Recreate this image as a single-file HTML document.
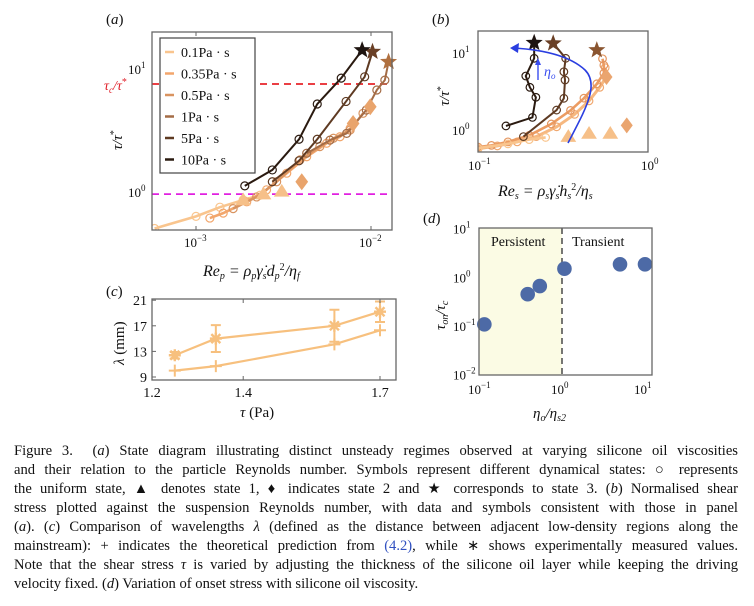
<!DOCTYPE html>
<html><head><meta charset="utf-8">
<style>
body{margin:0;background:#fff;width:754px;height:606px;overflow:hidden;position:relative;font-family:"Liberation Serif",serif;}
svg{position:absolute;left:0;top:0}
.cap{position:absolute;left:14px;width:724px;font-size:14.6px;line-height:19px;text-align:justify;text-align-last:justify;white-space:nowrap;color:#111}
.cap.last{text-align-last:left}
text{font-family:"Liberation Serif",serif;fill:#111}
</style></head><body>
<svg id="fig" width="754" height="606"></svg>
<div class="cap" style="top:442px">Figure 3. &nbsp;(<i>a</i>) State diagram illustrating distinct unsteady regimes observed at varying silicone oil viscosities</div>
<div class="cap" style="top:461px">and their relation to the particle Reynolds number. Symbols represent different dynamical states: ○ represents</div>
<div class="cap" style="top:480px">the uniform state, ▲ denotes state 1, ♦ indicates state 2 and ★ corresponds to state 3. (<i>b</i>) Normalised shear</div>
<div class="cap" style="top:499px">stress plotted against the suspension Reynolds number, with data and symbols consistent with those in panel</div>
<div class="cap" style="top:518px">(<i>a</i>). (<i>c</i>) Comparison of wavelengths <i>λ</i> (defined as the distance between adjacent low-density regions along the</div>
<div class="cap" style="top:537px">mainstream): + indicates the theoretical prediction from <span style="color:#3050c0">(4.2)</span>, while ∗ shows experimentally measured values.</div>
<div class="cap" style="top:556px">Note that the shear stress <i>τ</i> is varied by adjusting the thickness of the silicone oil layer while keeping the driving</div>
<div class="cap last" style="top:575px">velocity fixed. (<i>d</i>) Variation of onset stress with silicone oil viscosity.</div>
<script>
// ---------- data ----------
const seriesNames=["0.1Pa · s","0.35Pa · s","0.5Pa · s","1Pa · s","5Pa · s","10Pa · s"];
const seriesColors=["#f9c58e","#f2a66c","#d99460","#a46c46","#5e3a22","#2a1a10"];
// panel a  (Re_p, tau/tau*)
const aX01=[5.8e-4,1.0e-3,1.37e-3,1.86e-3,2.32e-3];
const aY01=[0.52,0.65,0.77,0.88,0.96];
const aTriX=[1.86e-3,2.43e-3,3.09e-3];
const aTriY=[0.88,0.98,1.03];
const aDiaX=[4.02e-3,7.9e-3,9.9e-3];
const aDiaY=[1.23,3.6,4.9];
const aX035=[1.2e-3,1.43e-3,1.95e-3,2.53e-3,3.3e-3,4.29e-3,5.58e-3,6.65e-3,7.6e-3];
const aY035=[0.63,0.69,0.85,1.06,1.44,1.95,2.5,2.82,3.29];
const aX05=[1.63e-3,2.22e-3,2.89e-3,3.93e-3,5.1e-3,6.1e-3,7.6e-3,9.0e-3];
const aY05=[0.75,0.93,1.23,1.84,2.35,2.74,3.19,4.34];
const aX1=[4.29e-3,5.83e-3,7.26e-3,9.4e-3,1.08e-2,1.2e-2];
const aY1=[2.08,2.65,3.0,4.61,6.67,8.0];
const aStar1=[1.26e-2,11.2];
const aX5=[2.73e-3,3.88e-3,4.93e-3,7.2e-3,9.2e-3];
const aY5=[1.23,1.81,2.69,5.4,8.5];
const aStar5=[1.02e-2,13.5];
const aX10=[1.9e-3,2.73e-3,3.88e-3,4.93e-3,6.76e-3];
const aY10=[1.14,1.53,2.69,5.15,8.3];
const aStar10=[8.9e-3,13.9];
const aTauC=7.45, aTauOne=0.98;
// panel b (Re_s, tau/tau*)
const bX10=[0.146,0.209,0.219,0.202,0.191,0.214];
const bY10=[1.13,1.46,2.67,3.6,5.06,8.6];
const bStar10=[0.214,13.7];
const bX5=[0.185,0.29,0.32,0.325,0.32,0.328];
const bY5=[0.82,1.82,2.59,4.49,5.75,8.6];
const bStar5=[0.277,13.5];
const bXl=[0.1,0.12,0.15,0.2,0.27,0.35,0.42,0.5,0.55,0.55,0.54];
const bYl=[0.6,0.63,0.7,0.85,1.2,1.8,2.6,4.0,5.5,7.0,8.5];
const bXl2=[0.1,0.13,0.17,0.22,0.29,0.37,0.45,0.52,0.57,0.56];
const bYl2=[0.57,0.62,0.7,0.82,1.1,1.6,2.4,3.6,5.0,6.5];
const bStarL=[0.5,11];
const bX01=[0.1,0.15,0.2,0.25];
const bY01=[0.58,0.66,0.75,0.8];
const bTriX=[0.34,0.45,0.6];
const bTriY=[0.82,0.9,0.9];
const bDiaX=[0.75,0.57];
const bDiaY=[1.15,4.9];
// panel c
const cTau=[1.25,1.34,1.6,1.7];
const cMeas=[12.4,15.0,17.0,19.2];
const cErr=[0.5,2.1,2.5,1.6];
const cTheo=[10.0,10.7,14.1,16.3];
const cXTicks=[1.2,1.4,1.7];
const cYTicks=[9,13,17,21];
// panel d
const dX=[0.116,0.386,0.54,1.07,5.0,10];
const dY=[0.108,0.45,0.66,1.5,1.85,1.85];

// ---------- helpers ----------
const NS="http://www.w3.org/2000/svg";
const svg=document.getElementById('fig');
function el(tag,attrs,parent){const e=document.createElementNS(NS,tag);for(const k in attrs)e.setAttribute(k,attrs[k]);(parent||svg).appendChild(e);return e;}
function txt(x,y,s,attrs){const t=el('text',Object.assign({x:x,y:y},attrs||{}));t.innerHTML=s;return t;}
const L=Math.log10;
function logAxis(p0,v0,pxPerDec){return v=>p0+pxPerDec*(L(v)-L(v0));}
function star(cx,cy,r){let p=[];for(let i=0;i<10;i++){const rr=i%2?r*0.42:r;const a=-Math.PI/2+i*Math.PI/5;p.push((cx+rr*Math.cos(a)).toFixed(1)+','+(cy+rr*Math.sin(a)).toFixed(1));}return p.join(' ');}
function line(xs,ys,fx,fy,color,w,name){const pts=xs.map((x,i)=>fx(x)+','+fy(ys[i])).join(' ');const p=el('polyline',{points:pts,fill:'none',stroke:color,'stroke-width':w||1.6});

return p;}
function tris(xs,ys,fx,fy,color,s,name){xs.forEach((x,i)=>{const X=fx(x),Y=fy(ys[i]);const p=el('polygon',{points:`${X},${Y-s} ${X-s*1.05},${Y+s*0.7} ${X+s*1.05},${Y+s*0.7}`,fill:color});

});}
function dias(xs,ys,fx,fy,color,s,name){xs.forEach((x,i)=>{const X=fx(x),Y=fy(ys[i]);const p=el('polygon',{points:`${X},${Y-s} ${X+s*0.75},${Y} ${X},${Y+s} ${X-s*0.75},${Y}`,fill:color});

});}
function starAt(pt,fx,fy,color,r,name){const p=el('polygon',{points:star(fx(pt[0]),fy(pt[1]),r),fill:color});

}
function frame(x0,y0,x1,y1,name){const r=el('rect',{x:x0,y:y0,width:x1-x0,height:y1-y0,fill:'none',stroke:'#666','stroke-width':1.3});

}
function clip(id,x0,y0,x1,y1){const d=el('clipPath',{id:id});el('rect',{x:x0,y:y0,width:x1-x0,height:y1-y0},d);return el('g',{'clip-path':`url(#${id})`});}

// ---------- panel a ----------
(function(){
const X0=152,X1=392,Y0=32,Y1=230;
const fx=logAxis(196,1e-3,175), fy=v=>193-125*L(v);
txt(106,24,'(<tspan font-style="italic">a</tspan>)',{'font-size':15,});
const g=clip('ca',X0,Y0,X1,Y1);


const r1=el('line',{x1:X0,x2:X1,y1:fy(aTauC),y2:fy(aTauC),stroke:'#e8242a','stroke-width':1.8,'stroke-dasharray':'7,5'},g);

const m1=el('line',{x1:X0,x2:X1,y1:fy(aTauOne),y2:fy(aTauOne),stroke:'#e020e0','stroke-width':1.8,'stroke-dasharray':'7,5'},g);

function L2(xs,ys,c,n,w){const p=line(xs,ys,fx,fy,c,w||2,n);g.appendChild(p);}
function C2(xs,ys,c,n){xs.forEach((x,i)=>{const e=el('circle',{cx:fx(x),cy:fy(ys[i]),r:4,fill:'none',stroke:c,'stroke-width':1.2},g);
});}
L2(aX01,aY01,seriesColors[0],'series-0.1-line',2.6);C2(aX01,aY01,seriesColors[0],'series-0.1-point');
L2(aX035,aY035,seriesColors[1],'series-0.35-line',2.6);C2(aX035,aY035,seriesColors[1],'series-0.35-point');
L2(aX05,aY05,seriesColors[2],'series-0.5-line',2.4);C2(aX05,aY05,seriesColors[2],'series-0.5-point');
L2(aX1.concat([aStar1[0]]),aY1.concat([aStar1[1]]),seriesColors[3],'series-1-line');C2(aX1,aY1,seriesColors[3],'series-1-point');
L2(aX5.concat([aStar5[0]]),aY5.concat([aStar5[1]]),seriesColors[4],'series-5-line');C2(aX5,aY5,seriesColors[4],'series-5-point');
L2(aX10.concat([aStar10[0]]),aY10.concat([aStar10[1]]),seriesColors[5],'series-10-line');C2(aX10,aY10,seriesColors[5],'series-10-point');
tris(aTriX,aTriY,fx,fy,'#f6c089',7.5,'state1-triangle');
dias(aDiaX,aDiaY,fx,fy,'#e9a46c',8.5,'state2-diamond');
starAt(aStar1,fx,fy,'#b0703f',9,'state3-star');
starAt(aStar5,fx,fy,'#6a4026',9,'state3-star');
starAt(aStar10,fx,fy,'#1e1410',9,'state3-star');
frame(X0,Y0,X1,Y1,'panel-a-frame');
const lg=el('rect',{x:160,y:38,width:95,height:135,fill:'#fff',stroke:'#444','stroke-width':1.2});

seriesNames.forEach((n,i)=>{const y=52+i*21.5;
const s=el('line',{x1:165,x2:174,y1:y,y2:y,stroke:seriesColors[i],'stroke-width':2.5});

const t=txt(181,y+5,n,{'font-size':14});
});
[1e-3,1e-2].forEach(v=>{el('line',{x1:fx(v),x2:fx(v),y1:Y1,y2:Y1-4,stroke:'#666'});el('line',{x1:fx(v),x2:fx(v),y1:Y0,y2:Y0+4,stroke:'#666'});});
txt(184,247,'10<tspan font-size="9" dy="-6">−3</tspan>',{'font-size':13,});
txt(359,247,'10<tspan font-size="9" dy="-6">−2</tspan>',{'font-size':13,});
txt(128,74,'10<tspan font-size="9" dy="-6">1</tspan>',{'font-size':13,});
txt(128,197,'10<tspan font-size="9" dy="-6">0</tspan>',{'font-size':13,});
txt(104,90,'<tspan font-style="italic">τ<tspan font-size="9" dy="3">c</tspan><tspan dy="-3">/τ</tspan></tspan><tspan font-size="10" dy="-5">*</tspan>',{'font-size':14,'style':'fill:#e0202a',});
txt(0,0,'<tspan font-style="italic">τ/τ</tspan><tspan font-size="10" dy="-5">*</tspan>',{'font-size':15,transform:'translate(122,150) rotate(-90)',});
txt(203,276,'<tspan font-style="italic">Re<tspan font-size="10" dy="3">p</tspan><tspan dy="-3"> = ρ</tspan><tspan font-size="10" dy="3">p</tspan><tspan dy="-3">γ̇</tspan><tspan font-size="10" dy="3">s</tspan><tspan dy="-3">d</tspan><tspan font-size="10" dy="3">p</tspan></tspan><tspan font-size="10" dy="-9">2</tspan><tspan font-style="italic" dy="6">/η</tspan><tspan font-style="italic" font-size="10" dy="3">f</tspan>',{'font-size':16,});
})();

// ---------- panel b ----------
(function(){
const X0=478,X1=648,Y0=31,Y1=152;
const fx=logAxis(478,0.1,170), fy=v=>130-76.7*L(v);
txt(432,24,'(<tspan font-style="italic">b</tspan>)',{'font-size':15,});
const g=clip('cb',X0,Y0,X1,Y1);
function L2(xs,ys,c,n,w){g.appendChild(line(xs,ys,fx,fy,c,w||2,n));}
function C2(xs,ys,c,n){xs.forEach((x,i)=>{const e=el('circle',{cx:fx(x),cy:fy(ys[i]),r:3.8,fill:'none',stroke:c,'stroke-width':1.2},g);
});}
L2(bXl2,bYl2,'#f6b880','series-light2-line',3);C2(bXl2,bYl2,'#f0a870','series-light2-point');
L2(bXl,bYl,'#ec9c62','series-light-line',2.6);C2(bXl,bYl,'#e49660','series-light-point');
L2(bX01,bY01,'#f9c58e','series-0.1-line',2.6);C2(bX01,bY01,'#f9c58e','series-0.1-point');
L2(bX5.concat([bStar5[0]]),bY5.concat([bStar5[1]]),seriesColors[4],'series-5-line');C2(bX5,bY5,seriesColors[4],'series-5-point');
L2(bX10.concat([bStar10[0]]),bY10.concat([bStar10[1]]),seriesColors[5],'series-10-line');C2(bX10,bY10,seriesColors[5],'series-10-point');
tris(bTriX,bTriY,fx,fy,'#f6c089',7.5,'state1-triangle');
dias(bDiaX,bDiaY,fx,fy,'#eaa56f',8,'state2-diamond');
starAt(bStarL,fx,fy,'#8a5530',9,'state3-star');
starAt(bStar5,fx,fy,'#6a4026',9,'state3-star');
starAt(bStar10,fx,fy,'#1e1410',9,'state3-star');
const ar=el('path',{d:'M568,143 C585,110 600,85 585,70 C570,56 545,50 514,48',fill:'none',stroke:'#2a3ee0','stroke-width':1.6});

el('polygon',{points:'510,48 519,43 518,53',fill:'#2a3ee0'});
el('line',{x1:538,y1:80,x2:538,y2:62,stroke:'#3a4ef0','stroke-width':1.4});
el('polygon',{points:'538,58 535,65 541,65',fill:'#3a4ef0'});
txt(544,76,'<tspan font-style="italic">η<tspan font-size="9" dy="3">o</tspan></tspan>',{'font-size':14,style:'fill:#3a4ef0',});
frame(X0,Y0,X1,Y1,'panel-b-frame');
txt(452,58,'10<tspan font-size="9" dy="-6">1</tspan>',{'font-size':13,});
txt(452,135,'10<tspan font-size="9" dy="-6">0</tspan>',{'font-size':13,});
txt(468,170,'10<tspan font-size="9" dy="-6">−1</tspan>',{'font-size':13,});
txt(641,170,'10<tspan font-size="9" dy="-6">0</tspan>',{'font-size':13,});
txt(0,0,'<tspan font-style="italic">τ/τ</tspan><tspan font-size="10" dy="-5">*</tspan>',{'font-size':15,transform:'translate(449,106) rotate(-90)',});
txt(498,196,'<tspan font-style="italic">Re<tspan font-size="10" dy="3">s</tspan><tspan dy="-3"> = ρ</tspan><tspan font-size="10" dy="3">s</tspan><tspan dy="-3">γ̇</tspan><tspan font-size="10" dy="3">s</tspan><tspan dy="-3">h</tspan><tspan font-size="10" dy="3">s</tspan></tspan><tspan font-size="10" dy="-9">2</tspan><tspan font-style="italic" dy="6">/η</tspan><tspan font-style="italic" font-size="10" dy="3">s</tspan>',{'font-size':16,});
})();

// ---------- panel c ----------
(function(){
const X0=152,X1=396,Y0=299,Y1=380;
const fx=v=>152+(v-1.2)*456, fy=v=>377-(v-9)*6.4;
txt(106,296,'(<tspan font-style="italic">c</tspan>)',{'font-size':15,});
const col='#f7c07e';
line(cTau,cMeas,fx,fy,col,2.2,'measured-line');
line(cTau,cTheo,fx,fy,col,2.2,'theory-line');
cTau.forEach((t,i)=>{const X=fx(t),a=fy(cMeas[i]-cErr[i]),b=fy(cMeas[i]+cErr[i]);
const e=el('path',{d:`M${X},${a}V${b}M${X-5},${a}H${X+5}M${X-5},${b}H${X+5}`,stroke:col,'stroke-width':2,fill:'none'});

const Y=fy(cMeas[i]);
const s=el('path',{d:`M${X-6},${Y}H${X+6}M${X},${Y-6}V${Y+6}M${X-4.5},${Y-4.5}L${X+4.5},${Y+4.5}M${X-4.5},${Y+4.5}L${X+4.5},${Y-4.5}`,stroke:col,'stroke-width':2.4});

const Y2=fy(cTheo[i]);
const p=el('path',{d:`M${X-6},${Y2}H${X+6}M${X},${Y2-6}V${Y2+6}`,stroke:col,'stroke-width':2});
});
frame(X0,Y0,X1,Y1,'panel-c-frame');
cXTicks.forEach(v=>{el('line',{x1:fx(v),x2:fx(v),y1:Y1,y2:Y1-4,stroke:'#666'});el('line',{x1:fx(v),x2:fx(v),y1:Y0,y2:Y0+4,stroke:'#666'});
txt(fx(v),397,v.toFixed(1),{'font-size':14,'text-anchor':'middle',});});
cYTicks.forEach(v=>{el('line',{x1:X0,x2:X0+4,y1:fy(v),y2:fy(v),stroke:'#666'});
txt(147,fy(v)+5,String(v),{'font-size':14,'text-anchor':'end',});});
txt(0,0,'<tspan font-style="italic">λ</tspan> (mm)',{'font-size':15,transform:'translate(124,365) rotate(-90)',});
txt(240,417,'<tspan font-style="italic">τ</tspan> (Pa)',{'font-size':15,});
})();

// ---------- panel d ----------
(function(){
const X0=479,X1=652,Y0=228,Y1=375;
const fx=logAxis(479,0.1,83), fy=v=>277.3-48.7*L(v);
txt(423,223,'(<tspan font-style="italic">d</tspan>)',{'font-size':15,});
const sh=el('rect',{x:X0,y:Y0,width:fx(1)-X0,height:Y1-Y0,fill:'#fbfbe4'});

const dl=el('line',{x1:fx(1),x2:fx(1),y1:Y0,y2:Y1,stroke:'#555','stroke-width':1.6,'stroke-dasharray':'6,4'});

txt(491,246,'Persistent',{'font-size':14,});
txt(572,246,'Transient',{'font-size':14,});
dX.forEach((x,i)=>{const c=el('circle',{cx:fx(x),cy:fy(dY[i]),r:7.3,fill:'#4d6aa6'});
});
frame(X0,Y0,X1,Y1,'panel-d-frame');
[0.1,1,10].forEach((v,i)=>{txt(fx(v)-11,394,'10<tspan font-size="9" dy="-6">'+['−1','0','1'][i]+'</tspan>',{'font-size':13,});});
[10,1,0.1,0.01].forEach((v,i)=>{txt(453,fy(v)+5,'10<tspan font-size="9" dy="-6">'+['1','0','−1','−2'][i]+'</tspan>',{'font-size':13,});});
txt(0,0,'<tspan font-style="italic">τ<tspan font-size="10" dy="3">on</tspan><tspan dy="-3">/τ</tspan><tspan font-size="10" dy="3">c</tspan></tspan>',{'font-size':15,transform:'translate(445,330) rotate(-90)',});
txt(533,418,'<tspan font-style="italic">η<tspan font-size="10" dy="3">o</tspan><tspan dy="-3">/η</tspan><tspan font-size="10" dy="3">s2</tspan></tspan>',{'font-size':15,});
})();
</script>
</body></html>
